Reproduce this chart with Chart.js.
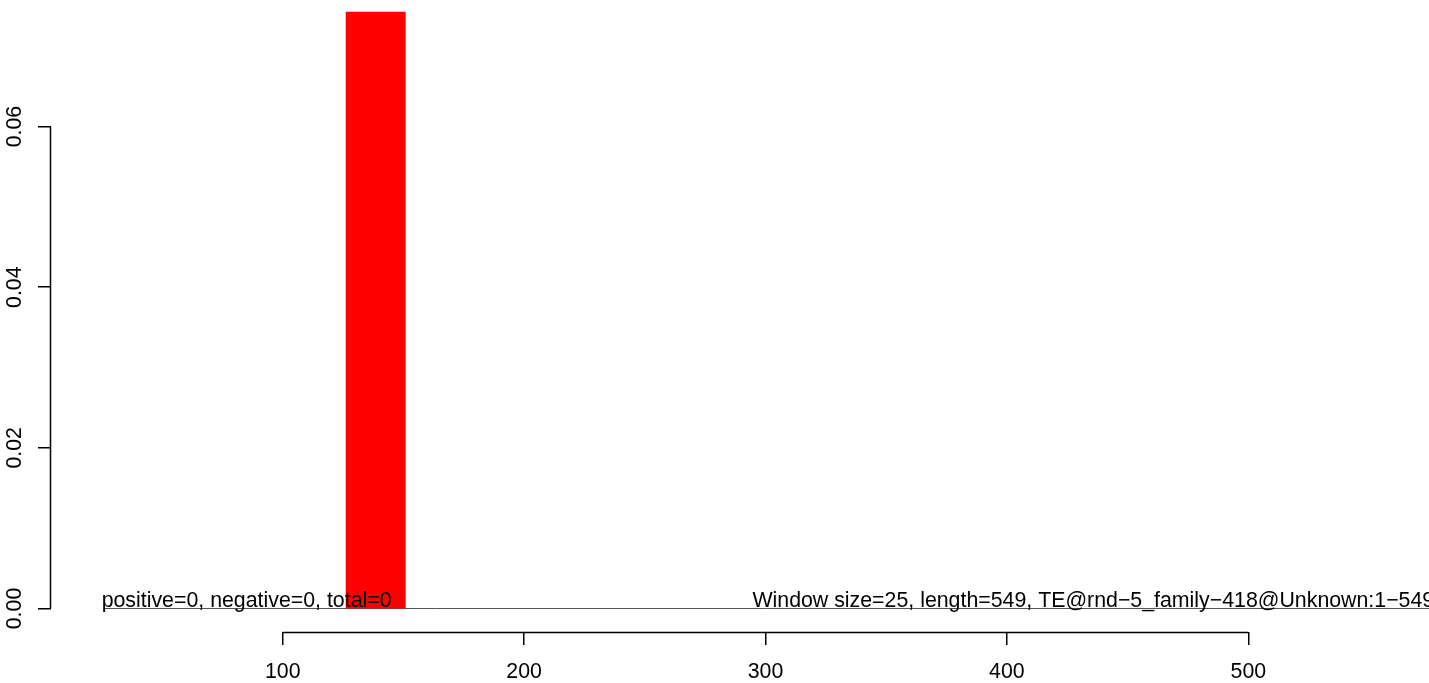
<!DOCTYPE html>
<html><head><meta charset="utf-8">
<script src="https://cdn.jsdelivr.net/npm/chart.js@4.4.0/dist/chart.umd.min.js"></script>
<style>html,body{margin:0;padding:0;background:#fff;overflow:hidden}</style>
</head><body>
<canvas id="c" width="1429" height="683"></canvas>
<script>
// ---- data ----
const windowSize = 25;
const binStarts = [126];
const binValues = [0.0743];
const baselineRange = [26, 575];
const xTicks = [100, 200, 300, 400, 500];
const yTicks = [0, 0.02, 0.04, 0.06];
const yTickLabels = ['0.00', '0.02', '0.04', '0.06'];
const leftNote = 'positive=0, negative=0, total=0';
const rightNote = 'Window size=25, length=549, TE@rnd\u22125_family\u2212418@Unknown:1\u2212549';
const leftNoteX = 25;
const rightNoteX = 577;

// ---- styles ----
const FONT = '"Liberation Sans", Arial, Helvetica, sans-serif';
const FSIZE = 21.33;
const AXIS_LW = 1.5;

const barDatasets = binStarts.map((s, i) => ({
  type: 'line',
  data: [
    {x: s, y: 0},
    {x: s, y: binValues[i]},
    {x: s + windowSize, y: binValues[i]},
    {x: s + windowSize, y: 0}
  ],
  borderWidth: 0,
  borderColor: 'rgba(0,0,0,0)',
  backgroundColor: '#ff0000',
  fill: 'origin',
  pointRadius: 0,
  tension: 0,
  order: 0
}));

const baselineDataset = {
  type: 'line',
  data: [{x: baselineRange[0], y: 0}, {x: baselineRange[1], y: 0}],
  borderColor: '#555555',
  borderWidth: 1,
  pointRadius: 0,
  fill: false,
  order: 1
};

const rAxes = {
  id: 'rAxes',
  afterDatasetsDraw(chart) {
    const {ctx, chartArea, scales: {x, y}} = chart;
    ctx.save();
    ctx.strokeStyle = '#000';
    ctx.lineWidth = AXIS_LW;
    // y axis line between first and last tick
    const yl = Math.round(chartArea.left) - 0.5;
    ctx.beginPath();
    ctx.moveTo(yl, y.getPixelForValue(yTicks[0]));
    ctx.lineTo(yl, y.getPixelForValue(yTicks[yTicks.length - 1]));
    ctx.stroke();
    // x axis line between first and last tick
    const xl = Math.round(chartArea.bottom) + 0.5;
    ctx.beginPath();
    ctx.moveTo(x.getPixelForValue(xTicks[0]), xl);
    ctx.lineTo(x.getPixelForValue(xTicks[xTicks.length - 1]), xl);
    ctx.stroke();
    // rotated y labels
    ctx.fillStyle = '#000';
    ctx.font = FSIZE + 'px ' + FONT;
    ctx.textAlign = 'center';
    ctx.textBaseline = 'alphabetic';
    yTicks.forEach((v, i) => {
      ctx.save();
      ctx.translate(21, y.getPixelForValue(v));
      ctx.rotate(-Math.PI / 2);
      ctx.fillText(yTickLabels[i], 0, 0);
      ctx.restore();
    });
    // notes
    const by = y.getPixelForValue(0) - 2;
    ctx.textAlign = 'left';
    ctx.fillText(leftNote, x.getPixelForValue(leftNoteX), by);
    ctx.textAlign = 'right';
    ctx.fillText(rightNote, x.getPixelForValue(rightNoteX), by);
    ctx.restore();
  }
};

new Chart(document.getElementById('c'), {
  type: 'line',
  data: { datasets: [...barDatasets, baselineDataset] },
  options: {
    responsive: false,
    animation: false,
    devicePixelRatio: 1,
    layout: { padding: 0 },
    plugins: { legend: { display: false }, tooltip: { enabled: false } },
    scales: {
      x: {
        type: 'linear',
        position: 'bottom',
        min: 4.02,
        max: 574.85,
        afterBuildTicks(s) { s.ticks = xTicks.map(v => ({value: v})); },
        afterFit(s) { s.height = 51; },
        border: { display: false },
        grid: { display: true, drawOnChartArea: false, drawTicks: true, tickLength: 13, color: '#000', lineWidth: AXIS_LW },
        ticks: { color: '#000', font: { family: FONT, size: FSIZE }, padding: 14, maxRotation: 0, minRotation: 0, autoSkip: false,
                 callback: v => String(v) }
      },
      y: {
        type: 'linear',
        position: 'left',
        min: -0.002925,
        max: 0.07575,
        afterBuildTicks(s) { s.ticks = yTicks.map(v => ({value: v})); },
        afterFit(s) { s.width = 51; },
        border: { display: false },
        grid: { display: true, drawOnChartArea: false, drawTicks: true, tickLength: 13, color: '#000', lineWidth: AXIS_LW },
        ticks: { display: false }
      }
    }
  },
  plugins: [rAxes]
});
</script>
</body></html>
